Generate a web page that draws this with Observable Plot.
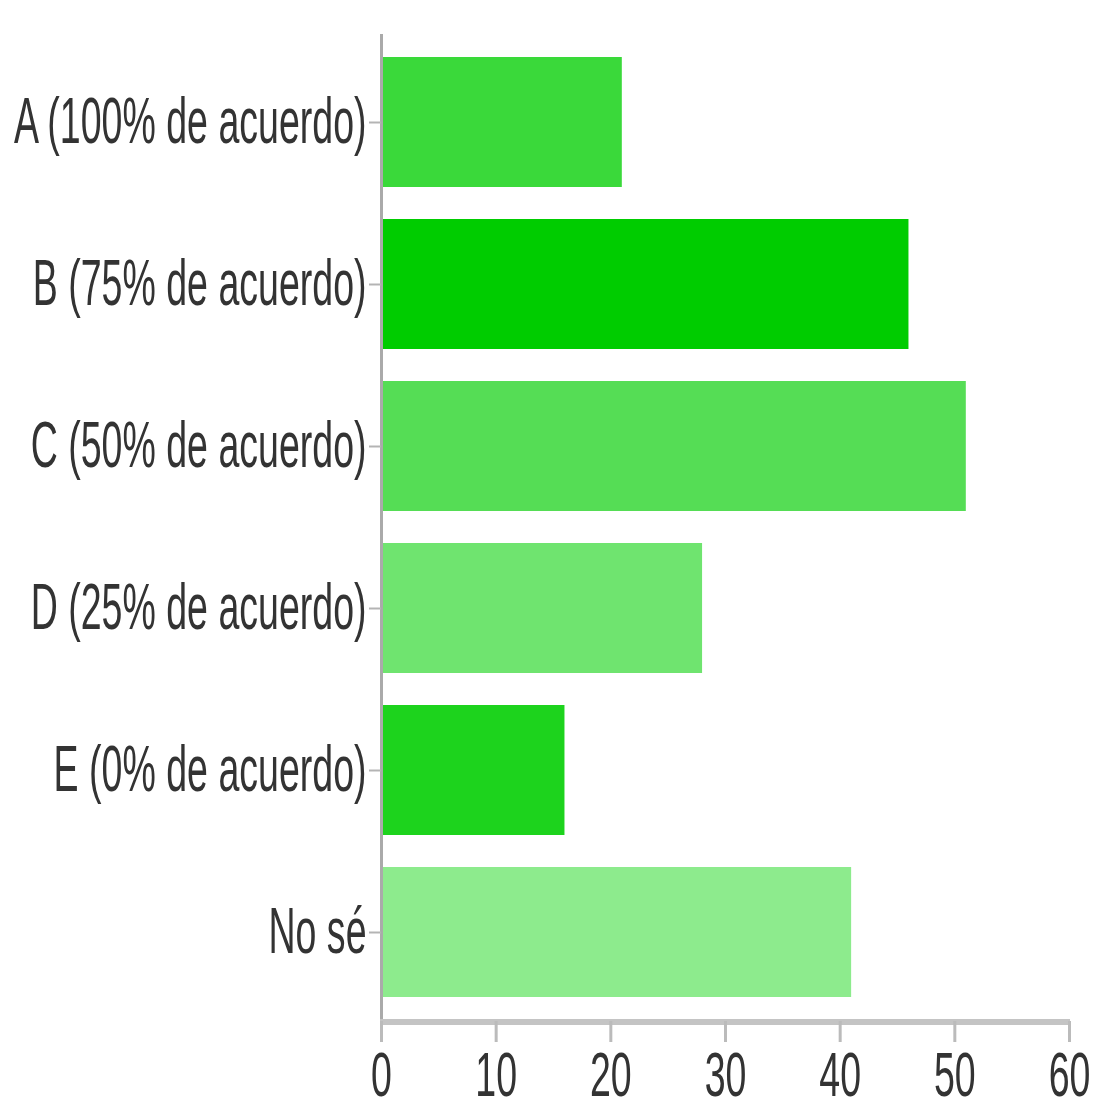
<!DOCTYPE html>
<html><head><meta charset="utf-8">
<script src="https://cdn.jsdelivr.net/npm/d3@7"></script>
<script src="https://cdn.jsdelivr.net/npm/@observablehq/plot@0.6"></script>
<style>html,body{margin:0;padding:0;background:#fff;}</style>
</head><body><div id="chart"></div>
<script>
const categories = ["A (100% de acuerdo)", "B (75% de acuerdo)", "C (50% de acuerdo)", "D (25% de acuerdo)", "E (0% de acuerdo)", "No sé"];
const counts = [21, 46, 51, 28, 16, 41];
const colors = ["#3ad93a", "#00cc00", "#55dd55", "#6fe46f", "#1dd31d", "#8deb8d"];
const xTicks = [0, 10, 20, 30, 40, 50, 60];

const data = categories.map((c, i) => ({category: c, count: counts[i], color: colors[i]}));

const plot = Plot.plot({
  width: 1097,
  height: 1110,
  marginLeft: 381,
  marginRight: 28,
  marginTop: 34,
  marginBottom: 89,
  style: {fontFamily: "'Liberation Sans', Arial, sans-serif", fontSize: "44px", color: "#333", background: "#fff"},
  x: {domain: [0, 60], ticks: xTicks},
  y: {domain: categories, paddingInner: 0.195, paddingOuter: 0.1325},
  color: {type: "identity"},
  marks: [
    Plot.barX(data, {x: "count", y: "category", fill: "color"}),
    Plot.ruleX([0], {stroke: "#aaa", strokeWidth: 3}),
    Plot.axisY({tickSize: 12, tickPadding: 3, stroke: "#b4b4b4", strokeWidth: 2, fontSize: 44, fill: "#333", label: null}),
    Plot.axisX({ticks: xTicks, tickSize: 21, tickPadding: 8, stroke: "#bbb", strokeWidth: 3, fontSize: 44, fill: "#333", label: null})
  ]
});

document.getElementById("chart").appendChild(plot);

// baseline of the x axis, positioned through the library scales
const xs = plot.scale("x"), ys = plot.scale("y");
const yBase = ys.range[1];
d3.select(plot).insert("line", "g[aria-label='x-axis tick']")
  .attr("x1", xs.apply(0) - 1).attr("x2", xs.apply(60) + 1)
  .attr("y1", yBase + 1).attr("y2", yBase + 1)
  .attr("stroke", "#c4c4c4").attr("stroke-width", 6);

// condensed, tall lettering as in the reference (scale applied after Plot's own translate)
function condense(sel, sx, sy) {
  plot.querySelectorAll(sel).forEach(t => {
    const tr = t.getAttribute("transform") || "";
    t.setAttribute("transform", tr + ` scale(${sx},${sy})`);
  });
}
condense("g[aria-label='y-axis tick label'] text", 0.853, 1.49);
condense("g[aria-label='x-axis tick label'] text", 0.853, 1.45);
</script>
</body></html>
